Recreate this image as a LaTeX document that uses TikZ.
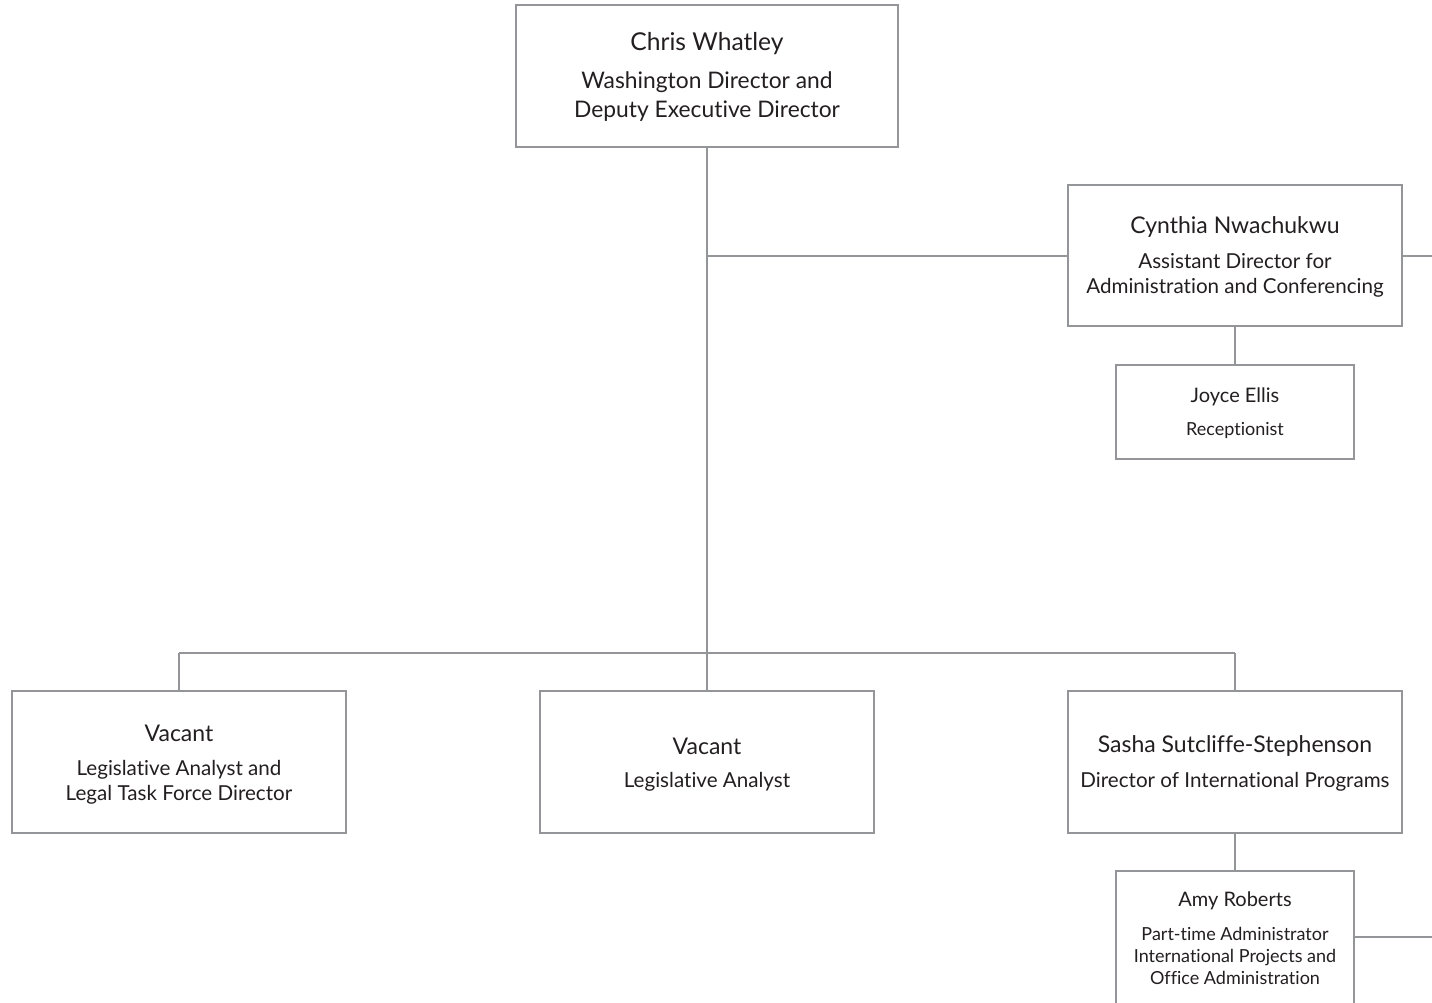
\documentclass[tikz,border=0pt]{standalone}
\usepackage{fontspec}
\setmainfont[RawFeature={-liga}]{Lato}
\definecolor{linegray}{HTML}{939598}
\definecolor{txt}{HTML}{231F20}
\begin{document}
\begin{tikzpicture}[x=1pt,y=-1pt,
  box/.style={draw=linegray,line width=2.6pt,fill=white,inner sep=0pt,outer sep=0pt},
  conn/.style={draw=linegray,line width=2.6pt},
  nmTop/.style={text=txt,font=\fontsize{24.6}{28}\selectfont,inner sep=0pt},
  nmA/.style={text=txt,font=\fontsize{23}{26}\selectfont,inner sep=0pt},
  sbA/.style={text=txt,font=\fontsize{22.8}{29}\selectfont,align=center,inner sep=0pt},
  sbB/.style={text=txt,font=\fontsize{20.6}{25}\selectfont,align=center,inner sep=0pt},
  nmC/.style={text=txt,font=\fontsize{20}{22}\selectfont,inner sep=0pt},
  sbC/.style={text=txt,font=\fontsize{18}{22}\selectfont,align=center,inner sep=0pt}]
\useasboundingbox (0,0) rectangle (1432,1002);
\clip (0,0) rectangle (1432,1002);
% boxes
\node[box,minimum width=382pt,minimum height=142pt] (chris) at (707,76) {};
\node[box,minimum width=334pt,minimum height=141pt] (cyn) at (1235,255.5) {};
\node[box,minimum width=238pt,minimum height=94pt] (joy) at (1235,412) {};
\node[box,minimum width=334pt,minimum height=142pt] (vac1) at (179,762) {};
\node[box,minimum width=334pt,minimum height=142pt] (vac2) at (707,762) {};
\node[box,minimum width=334pt,minimum height=142pt] (sas) at (1235,762) {};
\node[box,minimum width=238pt,minimum height=160pt] (amy) at (1235,951) {};
% junctions
\coordinate (j1) at (707,256);
\coordinate (jl) at (179,653);
\coordinate (jr) at (1235,653);
\coordinate (eR1) at (1432,256);
\coordinate (eR2) at (1432,937);
% connectors
\draw[conn] (chris.south) -- (vac2.north);
\draw[conn] (j1) -- (j1 -| cyn.west);
\draw[conn] (cyn.east |- eR1) -- (eR1);
\draw[conn] (cyn.south) -- (joy.north);
\draw[conn] (jl) -- (jr);
\draw[conn] (jl) -- (vac1.north);
\draw[conn] (jr) -- (sas.north);
\draw[conn] (sas.south) -- (amy.north);
\draw[conn] (amy.east |- eR2) -- (eR2);
% texts
\node[nmTop] (chrisN) at (707,44) {Chris Whatley};
\node[sbA] (chrisT) at (707,97) {Washington Director and\\Deputy Executive Director};
\node[nmA] (cynN) at (1235,227) {Cynthia Nwachukwu};
\node[sbB] (cynT) at (1235,275) {Assistant Director for\\Administration and Conferencing};
\node[nmC] (joyN) at (1235,397) {Joyce Ellis};
\node[sbC] (joyT) at (1235,430) {Receptionist};
\node[nmA] (vac1N) at (179,733) {Vacant};
\node[sbB] (vac1T) at (179,782) {Legislative Analyst and\\Legal Task Force Director};
\node[nmA] (vac2N) at (707,746) {Vacant};
\node[sbB] (vac2T) at (707,782) {Legislative Analyst};
\node[nmA] (sasN) at (1235,746) {Sasha Sutcliffe-Stephenson};
\node[sbB] (sasT) at (1235,782) {Director of International Programs};
\node[nmC] (amyN) at (1235,901) {Amy Roberts};
\node[sbC] (amyT) at (1235,956) {Part-time Administrator\\International Projects and\\Office Administration};
\end{tikzpicture}
\end{document}
